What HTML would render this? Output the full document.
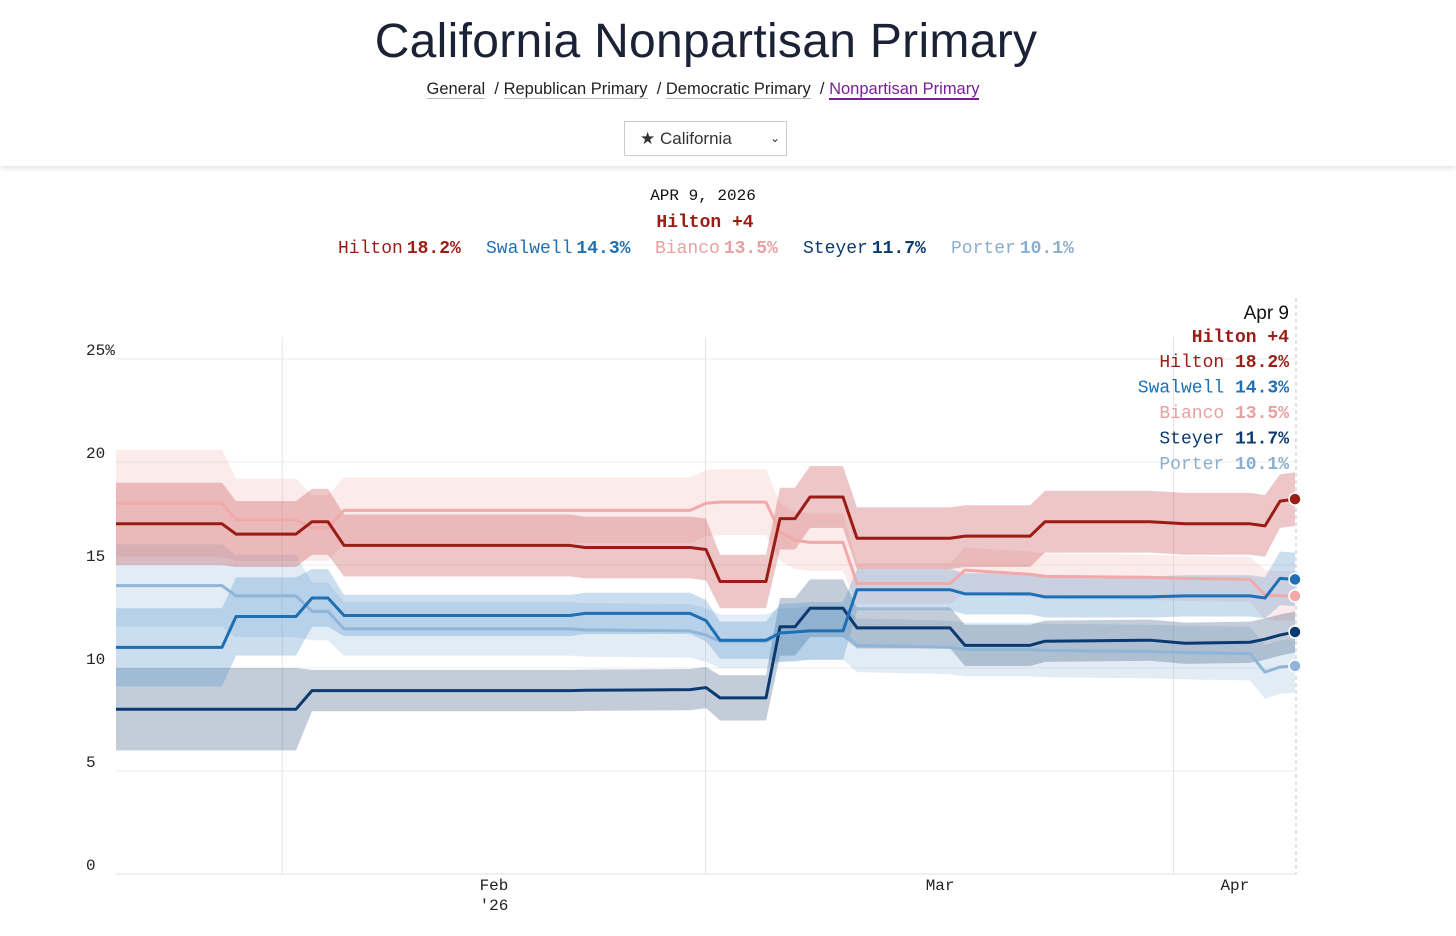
<!DOCTYPE html>
<html><head><meta charset="utf-8">
<style>
html,body{margin:0;padding:0;background:#fff;width:1456px;height:936px;overflow:hidden;font-family:"Liberation Sans",sans-serif}
.hdr{position:absolute;left:0;top:0;width:1456px;height:166px;background:#fff;box-shadow:0 2px 6px rgba(0,0,0,0.12)}
.title{position:absolute;top:14px;left:-22px;width:100%;text-align:center;font-size:48px;color:#1b2236;letter-spacing:0.3px}
.nav{position:absolute;top:80px;left:-25px;width:100%;text-align:center;font-size:16.5px;color:#222}
.nav a{color:#222;text-decoration:none;border-bottom:1px solid #bbb}
.nav a.cur{color:#7a1f9a;border-bottom:2px solid #7a1f9a}
.sel{position:absolute;left:624px;top:121px;width:163px;height:35px;border:1px solid #ccc;box-sizing:border-box;font-size:17px;color:#333;line-height:33px;padding-left:15px}
</style></head><body>
<div class="hdr">
<div class="title">California Nonpartisan Primary</div>
<div class="nav"><a>General</a>&nbsp; / <a>Republican Primary</a>&nbsp; / <a>Democratic Primary</a>&nbsp; / <a class="cur">Nonpartisan Primary</a></div>
<div class="sel">★ California<span style="position:absolute;right:6px;top:0;font-size:12px">&#8964;</span></div>
</div>
<svg id="chart" width="1456" height="936" style="position:absolute;left:0;top:0;pointer-events:none"></svg>
<script>
const gridPx=[116,222,236,296,312,328,344,570,585,690,706,720,766,780,795,810,843,857,950,965,1030,1045,1150,1185,1250,1265,1280,1295];
const xIdx=gridPx.map(p=>(p-116)/11.79);
const names=["Porter","Steyer","Bianco","Swalwell","Hilton"];
const hilton=[17.0,17.0,16.5,16.5,17.1,17.1,15.95,15.95,15.85,15.85,15.75,14.2,14.2,17.25,17.25,18.3,18.3,16.3,16.3,16.4,16.4,17.1,17.1,17.0,17.0,16.9,18.1,18.2];
const hiltonErr=[2.0,2.0,1.6,1.6,1.6,1.6,1.5,1.5,1.5,1.5,1.5,1.3,1.3,1.5,1.5,1.5,1.5,1.5,1.5,1.5,1.5,1.5,1.5,1.5,1.5,1.5,1.3,1.3];
const swalwell=[11.0,11.0,12.5,12.5,13.4,13.4,12.55,12.55,12.65,12.65,12.3,11.35,11.35,11.7,11.75,11.8,11.8,13.8,13.8,13.6,13.6,13.45,13.45,13.5,13.5,13.4,14.35,14.3];
const swalwellErr=[1.9,1.9,1.9,1.9,1.4,1.4,1.0,1.0,1.0,1.0,1.0,0.9,0.9,1.4,1.4,1.4,1.4,1.0,1.0,1.0,1.0,1.0,1.0,1.0,1.0,1.0,1.3,1.3];
const bianco=[18.0,18.0,17.2,17.2,16.8,16.8,17.65,17.65,17.65,17.65,18.0,18.05,18.05,16.6,16.2,16.1,16.1,14.1,14.1,14.75,14.55,14.45,14.4,14.35,14.3,13.55,13.5,13.5];
const biancoErr=[2.6,2.6,2.0,2.0,1.6,1.6,1.6,1.6,1.6,1.6,1.6,1.6,1.6,1.4,1.4,1.4,1.4,1.0,1.0,1.1,1.1,1.1,1.1,1.1,1.1,1.2,1.2,1.2];
const steyer=[8.0,8.0,8.0,8.0,8.9,8.9,8.9,8.9,8.92,8.95,9.05,8.55,8.55,12.0,12.0,12.9,12.9,11.95,11.95,11.1,11.1,11.3,11.35,11.2,11.25,11.4,11.6,11.75];
const steyerErr=[2.0,2.0,2.0,2.0,1.0,1.0,1.0,1.0,1.0,1.0,1.0,1.1,1.1,1.4,1.4,1.4,1.4,1.0,1.0,1.0,1.0,1.0,1.0,1.0,1.0,1.0,1.0,1.0];
const porter=[14.0,14.0,13.5,13.5,12.75,12.75,11.9,11.9,11.85,11.8,11.6,11.3,11.3,11.6,11.6,11.7,11.7,11.1,11.0,10.9,10.9,10.85,10.8,10.75,10.7,9.8,10.05,10.1];
const porterErr=[2.0,2.0,2.0,2.0,1.4,1.4,1.3,1.3,1.3,1.3,1.3,1.3,1.3,1.3,1.3,1.3,1.3,1.3,1.3,1.3,1.3,1.3,1.3,1.3,1.3,1.3,1.3,1.3];
const yTicks=[0,5,10,15,20,25];
const monthTicks=[32.06,69.9,94.9];
const monthLabels=["Feb","Mar","Apr"];
const vGrid=[14.1,50.0,89.7];
const finalVals=[18.2,14.3,13.5,11.7,10.1];

const X=i=>116+i*11.79, Y=v=>874-v*20.6;
const svg=document.getElementById('chart');const NS="http://www.w3.org/2000/svg";
function mk(t,a,txt){const e=document.createElementNS(NS,t);for(const k in a)e.setAttribute(k,a[k]);if(txt!=null)e.textContent=txt;svg.appendChild(e);return e;}
yTicks.forEach(v=>{
 const g=mk('line',{x1:116,x2:1296,y1:Y(v),y2:Y(v),stroke:v===0?'#e2e2e2':'#ececec','stroke-width':1});
 
 
 const t=mk('text',{x:86,y:Y(v)-4,'font-size':16,fill:'#222','font-family':'Liberation Mono, monospace'},v===25?'25%':String(v));
 
 
});
vGrid.forEach(i=>{
 const l=mk('line',{x1:X(i),x2:X(i),y1:337,y2:874,stroke:'#e4e4e4'});
 
 
});
monthTicks.forEach((i,k)=>{
 const t=mk('text',{x:X(i),y:890,'font-size':16,fill:'#222','text-anchor':'middle','font-family':'Liberation Mono, monospace'},monthLabels[k]);
 
 
});
const yr=mk('text',{x:X(monthTicks[0]),y:910,'font-size':16,fill:'#222','text-anchor':'middle','font-family':'Liberation Mono, monospace'},"'26");


const series=[
 {n:'bianco',v:bianco,e:biancoErr,c:'#f1a9a9',b:'rgba(240,165,165,0.22)'},
 {n:'porter',v:porter,e:porterErr,c:'#90b5d8',b:'rgba(140,180,215,0.25)'},
 {n:'steyer',v:steyer,e:steyerErr,c:'#0b3a70',b:'rgba(40,75,120,0.28)'},
 {n:'swalwell',v:swalwell,e:swalwellErr,c:'#1f6fb4',b:'rgba(80,145,205,0.30)'},
 {n:'hilton',v:hilton,e:hiltonErr,c:'#9b1c15',b:'rgba(195,70,70,0.30)'}];
series.forEach(s=>{
 let up=xIdx.map((x,i)=>X(x)+','+Y(s.v[i]+s.e[i]));
 let lo=xIdx.map((x,i)=>X(x)+','+Y(s.v[i]-s.e[i])).reverse();
 const p=mk('polygon',{points:up.concat(lo).join(' '),fill:s.b});
 
 
});
series.forEach(s=>{
 const l=mk('polyline',{points:xIdx.map((x,i)=>X(x)+','+Y(s.v[i])).join(' '),fill:'none',stroke:s.c,'stroke-width':3,'stroke-linejoin':'round'});
 
 
});
const dl=mk('line',{x1:1296,x2:1296,y1:298,y2:874,stroke:'#b8c4d4','stroke-dasharray':'4,3'});


series.forEach(s=>{
 const n=s.v.length-1;
 const d=mk('circle',{cx:X(xIdx[n]),cy:Y(s.v[n]),r:6,fill:s.c,stroke:'#fff','stroke-width':1.5});
 
 
});
const tcols=['#9b1c15','#1f6fb4','#e8a0a0','#0b3a70','#8aaed0'];
const tnames=['Hilton','Swalwell','Bianco','Steyer','Porter'];
const a=mk('text',{x:1289,y:319,'font-size':19,fill:'#111','text-anchor':'end'},'Apr 9');


const h=mk('text',{x:1289,y:342,'font-size':18,fill:'#9b1c15','text-anchor':'end','font-weight':'bold','font-family':'Liberation Mono, monospace'},'Hilton +4');


tnames.forEach((nm,k)=>{
 const t=mk('text',{x:1289,y:367+k*25.5,'font-size':18,fill:tcols[k],'text-anchor':'end','font-family':'Liberation Mono, monospace'});
 t.innerHTML=nm+' <tspan font-weight="bold">'+finalVals[k].toFixed(1)+'%</tspan>';
 
 
});
const d1=mk('text',{x:703,y:200,'font-size':16,fill:'#111','text-anchor':'middle','font-family':'Liberation Mono, monospace'},'APR 9, 2026');


const d2=mk('text',{x:705,y:227,'font-size':18,fill:'#9b1c15','text-anchor':'middle','font-weight':'bold','font-family':'Liberation Mono, monospace'},'Hilton +4');


const lx=[338,486,655,803,951];
tnames.forEach((nm,k)=>{
 const t=mk('text',{x:lx[k],y:253,'font-size':18,fill:tcols[k],'font-family':'Liberation Mono, monospace'});
 t.innerHTML=nm+'<tspan font-weight="bold" dx="4">'+finalVals[k].toFixed(1)+'%</tspan>';
 
 
});
</script>
</body></html>
